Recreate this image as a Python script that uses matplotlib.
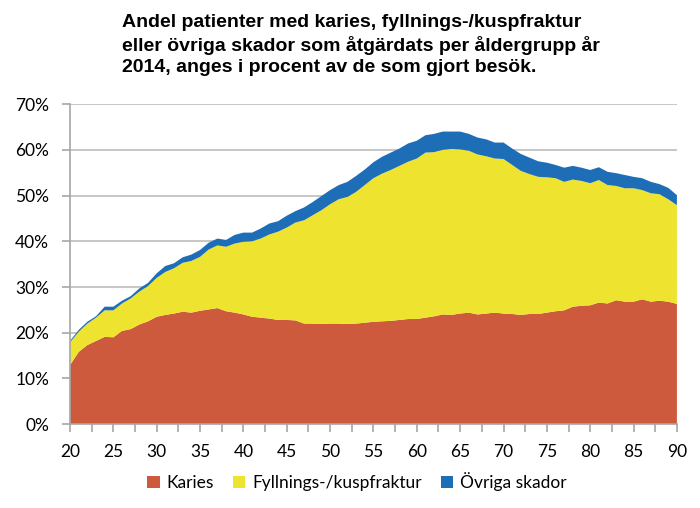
import numpy as np
import matplotlib
matplotlib.use("Agg")
import matplotlib.pyplot as plt
from matplotlib.patches import Patch
from matplotlib.ticker import FuncFormatter, MultipleLocator

ages = list(range(20, 91))

karies = [12.9, 15.8, 17.3, 18.2, 19.1, 19.0, 20.4, 20.8, 21.8, 22.5,
          23.5, 23.9, 24.2, 24.6, 24.4, 24.8, 25.1, 25.4, 24.7, 24.4,
          24.0, 23.5, 23.3, 23.1, 22.8, 22.8, 22.7, 22.0, 22.0, 21.9,
          22.0, 22.0, 21.9, 22.0, 22.2, 22.4, 22.5, 22.6, 22.8, 23.0,
          23.0, 23.3, 23.6, 24.0, 23.9, 24.2, 24.4, 24.0, 24.2, 24.4,
          24.2, 24.1, 23.9, 24.1, 24.1, 24.4, 24.7, 24.9, 25.7, 25.9,
          26.0, 26.6, 26.4, 27.1, 26.8, 26.8, 27.3, 26.8, 27.0, 26.8,
          26.3]

fyllning = [5.0, 4.4, 4.7, 5.1, 5.8, 5.9, 6.0, 6.7, 7.2, 7.7,
            8.5, 9.4, 9.9, 10.7, 11.3, 11.8, 13.1, 13.7, 14.1, 15.1,
            15.9, 16.5, 17.3, 18.4, 19.3, 20.2, 21.4, 22.6, 23.7, 24.9,
            26.1, 27.2, 27.8, 28.8, 30.1, 31.4, 32.3, 33.0, 33.7, 34.4,
            35.1, 36.1, 35.9, 36.0, 36.3, 35.9, 35.4, 35.0, 34.4, 33.7,
            33.8, 32.6, 31.5, 30.6, 30.0, 29.6, 29.1, 28.1, 27.8, 27.3,
            26.7, 26.8, 25.9, 25.0, 24.8, 24.8, 23.9, 23.7, 23.3, 22.4,
            21.6]

ovriga = [0.3, 0.4, 0.4, 0.3, 0.8, 0.8, 0.6, 0.5, 0.7, 0.7,
          1.0, 1.3, 1.1, 1.2, 1.4, 1.5, 1.5, 1.5, 1.5, 1.9,
          2.0, 1.9, 2.2, 2.4, 2.3, 2.6, 2.5, 2.8, 2.9, 3.1,
          3.1, 3.1, 3.3, 3.5, 3.4, 3.5, 3.7, 3.8, 3.8, 4.0,
          3.9, 3.8, 4.0, 4.0, 3.8, 3.9, 3.7, 3.7, 3.7, 3.5,
          3.6, 3.6, 3.7, 3.6, 3.4, 3.2, 2.9, 3.1, 3.0, 2.9,
          2.9, 2.8, 2.9, 2.8, 2.9, 2.5, 2.6, 2.5, 2.2, 2.5,
          2.2]

labels = ["Karies", "Fyllnings-/kuspfraktur", "Övriga skador"]
colors = ["#CD5A3C", "#EEE42F", "#1E6EB7"]

title = ("Andel patienter med karies, fyllnings-/kuspfraktur\n"
         "eller övriga skador som åtgärdats per åldergrupp år\n"
         "2014, anges i procent av de som gjort besök.")

fig = plt.figure(figsize=(7.0, 5.08), dpi=100)
ax = fig.add_axes([0.1, 0.165, 0.867, 0.63])

ax.stackplot(ages, karies, fyllning, ovriga, colors=colors, linewidth=0)

ax.set_xlim(20, 90)
ax.set_ylim(0, 70)
ax.yaxis.set_major_locator(MultipleLocator(10))
ax.yaxis.set_major_formatter(FuncFormatter(lambda v, p: f"{v:.0f}%"))
ax.xaxis.set_major_locator(MultipleLocator(5))
ax.xaxis.set_minor_locator(MultipleLocator(2.5))
ax.grid(axis="y", color="#BDBDBD", linewidth=1.2)
ax.set_axisbelow(True)

for s in ["top", "right"]:
    ax.spines[s].set_visible(False)
for s in ["left", "bottom"]:
    ax.spines[s].set_color("#A6A6A6")
    ax.spines[s].set_linewidth(1.2)
    ax.spines[s].set_zorder(5)

ax.tick_params(axis="both", which="both", color="#A6A6A6", width=1.2, length=6,
               labelsize=12.5, labelcolor="black")
ax.tick_params(axis="y", pad=9)
ax.tick_params(axis="x", pad=8)
for t in ax.get_xticklabels() + ax.get_yticklabels():
    t.set_fontfamily("Lato")

fig.text(0.174, 0.972, title, ha="left", va="top", fontsize=14,
         fontweight="bold", family="Liberation Sans", linespacing=1.3)

handles = [Patch(facecolor=c, edgecolor="none") for c in colors]
fig.legend(handles, labels, loc="center", bbox_to_anchor=(0.51, 0.052),
           ncol=3, frameon=False, prop={"family": "Lato", "size": 12.5},
           handlelength=0.7, handleheight=0.7, handletextpad=0.4,
           columnspacing=1.1)

fig.savefig("out.png", dpi=100)
